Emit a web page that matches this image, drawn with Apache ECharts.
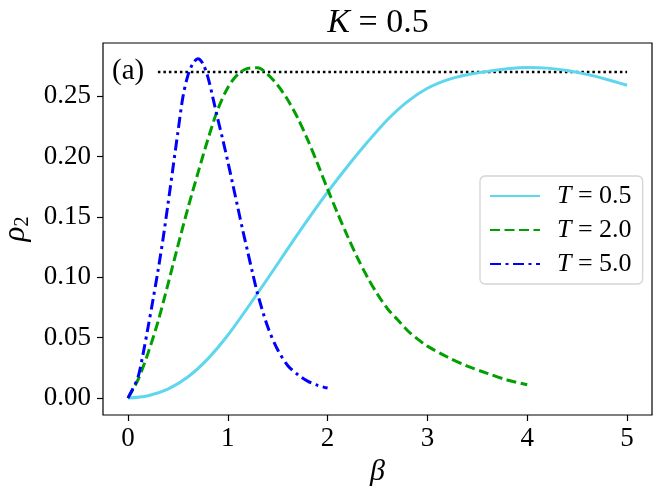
<!DOCTYPE html>
<html><head><meta charset="utf-8">
<script src="https://cdn.jsdelivr.net/npm/echarts@6/dist/echarts.min.js"></script>
<style>html,body{margin:0;padding:0;background:#fff}#c{width:664px;height:495px}</style>
</head><body><div id="c"></div>
<script>
// ---- data ----
const betaT05 = [0,0.2,0.4,0.6,0.8,1.0,1.2,1.4,1.6,1.8,2.0,2.2,2.4,2.6,2.8,3.0,3.2,3.4,3.6,3.8,4.0,4.2,4.4,4.6,4.8,5.0];
const rhoT05  = [0,0.002,0.0075,0.0175,0.0325,0.052,0.075,0.099,0.1235,0.1475,0.1705,0.192,0.212,0.2305,0.2455,0.2565,0.2635,0.2677,0.2704,0.2726,0.2737,0.2732,0.2712,0.268,0.2638,0.259];

const betaT20 = [0,0.1,0.2,0.3,0.4,0.5,0.6,0.7,0.8,0.9,1.0,1.1,1.2,1.3,1.4,1.5,1.6,1.7,1.8,1.9,2.0,2.1,2.2,2.3,2.4,2.5,2.6,2.7,2.8,2.9,3.0,3.2,3.4,3.6,3.8,4.0];
const rhoT20  = [0,0.015,0.037,0.063,0.094,0.126,0.157,0.186,0.214,0.239,0.257,0.268,0.273,0.2735,0.268,0.259,0.247,0.232,0.214,0.194,0.173,0.153,0.134,0.116,0.100,0.086,0.074,0.065,0.056,0.049,0.043,0.034,0.0265,0.0205,0.015,0.011];

const betaT50 = [0,0.05,0.1,0.15,0.2,0.25,0.3,0.35,0.4,0.45,0.5,0.55,0.6,0.65,0.7,0.75,0.8,0.85,0.9,0.95,1.0,1.05,1.1,1.15,1.2,1.25,1.3,1.4,1.5,1.6,1.7,1.8,1.9,2.0];
const rhoT50  = [0,0.008,0.017,0.036,0.058,0.081,0.105,0.131,0.160,0.190,0.220,0.249,0.267,0.277,0.281,0.277,0.266,0.249,0.231,0.214,0.196,0.177,0.158,0.139,0.121,0.103,0.086,0.059,0.040,0.027,0.0195,0.014,0.0105,0.0083];

const refBeta = [0.3, 5.0];
const refRho  = [0.27, 0.27];

const seriesNames = ['T = 0.5', 'T = 2.0', 'T = 5.0'];
const xTicks = [0,1,2,3,4,5];
const yTicks = [0,0.05,0.10,0.15,0.20,0.25];

const zip = (a,b) => a.map((v,i) => [v, b[i]]);
const FONT = 'Liberation Serif';

const chart = echarts.init(document.getElementById('c'), null, {renderer:'canvas'});
chart.setOption({
  animation: false,
  backgroundColor: '#fff',
  grid: {left:103, right:12, top:43, bottom:80, show:true, borderColor:'#000', borderWidth:1.2,
    backgroundColor:'transparent', containLabel:false, outerBoundsMode:'none'},
  xAxis: {
    type:'value', min:-0.25, max:5.25,
    name:'{i|β}', nameLocation:'middle', nameGap:36,
    nameTextStyle:{fontFamily:FONT, fontSize:30, color:'#000', rich:{i:{fontFamily:FONT, fontSize:30, fontStyle:'italic', color:'#000'}}},
    axisLine:{show:false, onZero:false},
    axisTick:{show:true, customValues:xTicks, length:6, inside:false, lineStyle:{color:'#000', width:1.2}},
    axisLabel:{customValues:xTicks, fontFamily:FONT, fontSize:27, color:'#000', margin:10, formatter:v=>String(v)},
    splitLine:{show:false}
  },
  yAxis: {
    type:'value', min:-0.014, max:0.294,
    name:'{r|ρ}{s|2}', nameLocation:'middle', nameGap:60, nameRotate:90,
    nameTextStyle:{fontFamily:FONT, color:'#000', rich:{
      r:{fontFamily:FONT, fontSize:31, fontStyle:'italic', color:'#000'},
      s:{fontFamily:FONT, fontSize:20, color:'#000', padding:[14,0,0,0]}
    }},
    axisLine:{show:false, onZero:false},
    axisTick:{show:true, customValues:yTicks, length:6, lineStyle:{color:'#000', width:1.2}},
    axisLabel:{customValues:yTicks, fontFamily:FONT, fontSize:27, color:'#000', margin:12, formatter:v=>v.toFixed(2)},
    splitLine:{show:false}
  },
  legend: {
    orient:'vertical', left:480, top:176,
    data: seriesNames,
    padding:[7,11,7,9], itemGap:8, itemWidth:50, itemHeight:14,
    itemStyle:{opacity:0},
    backgroundColor:'#fff', borderColor:'#d4d4d4', borderWidth:1.3, borderRadius:5,
    formatter: n => '{i|T}{n| = ' + n.split(' = ')[1] + '}',
    textStyle:{fontFamily:FONT, fontSize:26, color:'#000', lineHeight:25,
      rich:{
        i:{fontFamily:FONT, fontSize:26, fontStyle:'italic', color:'#000', lineHeight:25, padding:[0,0,0,12]},
        n:{fontFamily:FONT, fontSize:26, color:'#000', lineHeight:25}
      }}
  },
  graphic: [
    {type:'text', x:378, y:23, z:100,
      style:{text:'{i|K} = 0.5', fontFamily:FONT, fontSize:34, fill:'#000', align:'center', verticalAlign:'middle',
        rich:{i:{fontFamily:FONT, fontSize:34, fontStyle:'italic', fill:'#000'}}}},
    {type:'text', x:112, y:71, z:100,
      style:{text:'(a)', fontFamily:FONT, fontSize:29, fill:'#000', align:'left', verticalAlign:'middle'}}
  ],
  series: [
    {name:seriesNames[0], type:'line', data:zip(betaT05, rhoT05), symbol:'none', smooth:0.3,
      lineStyle:{color:'#5dd6ee', width:3, type:'solid'}, itemStyle:{color:'#5dd6ee'}, z:3},
    {name:seriesNames[1], type:'line', data:zip(betaT20, rhoT20), symbol:'none', smooth:0.3,
      lineStyle:{color:'#00a000', width:3, type:[10,4.5]}, itemStyle:{color:'#00a000'}, z:4},
    {name:seriesNames[2], type:'line', data:zip(betaT50, rhoT50), symbol:'none', smooth:0.3,
      lineStyle:{color:'#0000ff', width:3, type:[11,4.5,3,4.5]}, itemStyle:{color:'#0000ff'}, z:5},
    {name:'ref', type:'line', data:zip(refBeta, refRho), symbol:'none', silent:true,
      lineStyle:{color:'#000', width:2.5, type:[2.5,3]}, z:2}
  ]
});
</script></body></html>
